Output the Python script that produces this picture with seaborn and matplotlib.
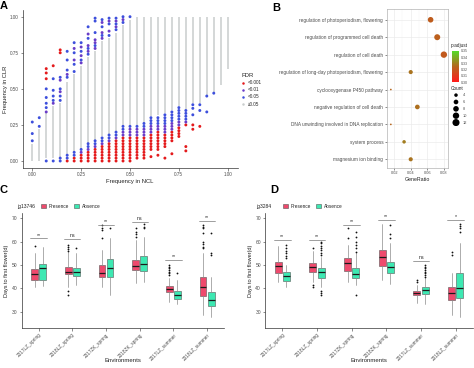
import numpy as np
import pandas as pd
import matplotlib
matplotlib.use("Agg")
import matplotlib.pyplot as plt
import seaborn as sns
from matplotlib.colors import LinearSegmentedColormap, Normalize
from matplotlib.lines import Line2D
from matplotlib.patches import Patch
from matplotlib.colorbar import ColorbarBase

# ---------------- A: frequency in NCL vs CLR ----------------
n_ncl = 28  # columns at k/28
gray_lo = [0.00, 0.00, 0.02, 0.02, 0.03, 0.05, 0.06, 0.08, 0.12, 0.14,
           0.17, 0.19, 0.20, 0.24, 0.25, 0.25, 0.26, 0.31, 0.32, 0.33,
           0.35, 0.38, 0.36, 0.40, 0.40, 0.46, 0.48, 0.53, 0.64]
gray_hi = [0.12, 0.22, 0.33, 0.38, 0.40, 0.55, 0.60, 0.66, 0.72, 0.76,
           0.83, 0.85, 0.89, 0.94, 0.98, 1.00, 1.00, 1.00, 1.00, 1.00,
           1.00, 1.00, 1.00, 1.00, 1.00, 1.00, 1.00, 1.00, 1.00]
red_pts = [[], [], [0.64, 0.61, 0.57], [0.66], [0.77, 0.75],
           [0.0], [0.0, 0.02], [0.0, 0.02, 0.04], [0.0, 0.02, 0.04, 0.06],
           [0.0, 0.02, 0.04, 0.06, 0.08],
           [0.0, 0.02, 0.04, 0.06, 0.08, 0.10],
           [0.0, 0.02, 0.04, 0.06, 0.08, 0.10, 0.12],
           [0.0, 0.02, 0.04, 0.06, 0.08, 0.10, 0.12, 0.14],
           [0.0, 0.02, 0.04, 0.06, 0.08, 0.10, 0.12, 0.14, 0.16],
           [0.0, 0.02, 0.04, 0.06, 0.08, 0.10, 0.12, 0.14, 0.16],
           [0.02, 0.04, 0.06, 0.08, 0.10, 0.12, 0.14, 0.16],
           [0.02, 0.04, 0.06, 0.08, 0.10, 0.12, 0.14, 0.16],
           [0.03, 0.08, 0.10, 0.12, 0.14, 0.16, 0.18],
           [0.04, 0.08, 0.10, 0.12, 0.14, 0.16, 0.18, 0.20],
           [0.02, 0.10, 0.12, 0.14, 0.16, 0.18],
           [0.05, 0.14, 0.16, 0.18, 0.20],
           [0.17, 0.19, 0.21, 0.23],
           [0.07, 0.10, 0.25], [0.22, 0.25], [0.24], [], [], [], []]
purple_pts = [[], [], [0.34], [0.40], [0.56, 0.48], [0.60], [0.78, 0.70],
              [0.79, 0.73, 0.68, 0.06], [0.88, 0.80, 0.76, 0.08],
              [0.84, 0.82, 0.78, 0.10], [0.96, 0.89, 0.85, 0.12],
              [0.97, 0.90, 0.14], [0.97, 0.93, 0.16], [0.98, 0.18, 0.20],
              [0.18, 0.20, 0.22], [0.18, 0.20, 0.22], [0.18, 0.20, 0.22],
              [0.20, 0.22, 0.24], [0.22, 0.24], [0.20, 0.22, 0.24],
              [0.22, 0.24, 0.26], [0.25, 0.27], [0.27], [], [], [], [], [], []]
blue_pts = [[0.27, 0.19, 0.14], [0.30, 0.24], [0.50, 0.44, 0.40, 0.37, 0.0],
            [0.57, 0.49, 0.45, 0.42, 0.0], [0.58, 0.50, 0.45, 0.42, 0.0, 0.02],
            [0.76, 0.70, 0.63, 0.58, 0.02, 0.04], [0.82, 0.75, 0.67, 0.62, 0.04, 0.06],
            [0.82, 0.76, 0.70, 0.08], [0.93, 0.85, 0.78, 0.74, 0.10, 0.12],
            [0.99, 0.97, 0.89, 0.80, 0.12, 0.14], [0.98, 0.93, 0.87, 0.14, 0.16],
            [0.99, 0.95, 0.87, 0.16, 0.18], [0.99, 0.95, 0.91, 0.18, 0.20],
            [1.0, 0.96, 0.22, 0.24], [1.0, 0.24], [0.24], [0.24, 0.26],
            [0.26, 0.28, 0.30], [0.26, 0.28, 0.30], [0.26, 0.28, 0.30, 0.32],
            [0.28, 0.30, 0.32, 0.34], [0.29, 0.31, 0.33, 0.35, 0.37],
            [0.29, 0.31, 0.33, 0.35], [0.32, 0.365, 0.39], [0.35, 0.39],
            [0.34, 0.45], [0.47], [], []]
fdr_labels = ["<0.001", "<0.01", "<0.05", "\u22650.05"]
fdr_colors = ["#e41a1c", "#6a3cc8", "#3d4fdc", "#c9cdcd"]

# ---------------- B: GO enrichment ----------------
go_terms = ["regulation of photoperiodism, flowering",
            "regulation of programmed cell death",
            "regulation of cell death",
            "regulation of long-day photoperiodism, flowering",
            "cyclooxygenase P450 pathway",
            "negative regulation of cell death",
            "DNA unwinding involved in DNA replication",
            "system process",
            "magnesium ion binding"]
gene_ratio = [0.064, 0.072, 0.080, 0.040, 0.016, 0.048, 0.016, 0.032, 0.040]
go_count = [8, 9, 10, 5, 2, 6, 2, 4, 5]
go_padj = [0.322, 0.323, 0.321, 0.328, 0.325, 0.327, 0.325, 0.330, 0.328]
padj_ticks = [0.30, 0.31, 0.32, 0.33, 0.34, 0.35]
count_legend = [4, 6, 8, 10, 12]

# ---------------- C / D: days to first flower ----------------
envs = ["2017LZ_spring", "2018LZ_spring", "2017ZK_spring",
        "2018ZK_spring", "2017LZ_summer", "2018LZ_summer"]

c_pre_med = [46.0, 47.1, 46.4, 49.7, 39.6, 40.7]
c_pre_q1 = [43.6, 46.0, 45.0, 47.9, 38.3, 36.7]
c_pre_q3 = [48.3, 49.3, 50.0, 52.1, 41.1, 45.0]
c_pre_lo = [40.7, 40.7, 40.7, 42.1, 34.0, 28.6]
c_pre_hi = [55.0, 55.5, 56.4, 60.7, 44.6, 55.0]
c_pre_out = [[58.0], [58.6, 57.7, 56.9, 56.2, 38.9, 37.1], [61.4, 65.0, 66.0, 67.1],
             [65.7, 64.3, 63.1, 62.1], [45.7, 46.4, 47.1, 47.9, 48.6, 49.3, 50.0],
             [67.1, 66.4, 65.7, 63.6, 59.7, 58.9, 57.9, 57.1]]
c_abs_med = [48.6, 46.9, 48.6, 50.6, 37.1, 35.0]
c_abs_q1 = [43.6, 45.4, 45.0, 47.4, 35.3, 32.6]
c_abs_q3 = [50.3, 48.9, 52.6, 54.0, 38.9, 38.6]
c_abs_lo = [41.0, 41.4, 37.1, 42.9, 33.1, 27.9]
c_abs_hi = [57.9, 55.0, 61.4, 62.1, 43.6, 45.0]
c_abs_out = [[], [57.4], [65.7], [67.4, 66.4, 65.7], [46.4], [63.6, 55.0, 54.3]]
c_sig = ["**", "ns", "**", "ns", "**", "**"]
c_sig_y = [61.4, 61.1, 67.1, 68.6, 52.1, 68.9]

d_pre_med = [49.6, 49.3, 50.7, 53.6, 38.1, 37.9]
d_pre_q1 = [46.4, 46.9, 47.4, 49.7, 37.1, 35.0]
d_pre_q3 = [51.4, 50.7, 53.1, 56.4, 38.9, 40.7]
d_pre_lo = [42.6, 42.6, 42.9, 43.6, 33.6, 28.6]
d_pre_hi = [58.3, 56.0, 58.6, 67.4, 41.4, 46.4]
d_pre_out = [[], [57.4, 41.4, 40.7], [61.7, 65.7], [], [43.6, 42.9], [55.7, 54.3]]
d_abs_med = [45.3, 46.9, 46.0, 49.3, 39.3, 40.3]
d_abs_q1 = [43.3, 44.6, 44.6, 46.4, 37.4, 35.7]
d_abs_q3 = [46.9, 48.6, 48.6, 51.4, 40.7, 46.4]
d_abs_lo = [40.7, 40.7, 41.4, 42.0, 33.1, 27.9]
d_abs_hi = [50.0, 53.6, 55.0, 59.3, 44.3, 59.3]
d_abs_out = [[52.9, 54.0, 55.0, 56.0, 57.1, 58.6],
             [54.3, 55.3, 56.3, 57.3, 58.3, 59.3, 60.0, 38.9, 37.9, 37.1],
             [55.7, 57.1, 58.6, 60.0, 62.1, 64.3, 37.1],
             [61.4, 63.1, 67.1],
             [45.0, 45.7, 46.4, 47.1, 47.9, 48.6, 49.3, 50.0],
             [64.3, 66.0, 66.9, 67.4]]
d_sig = ["**", "**", "**", "**", "ns", "*"]
d_sig_y = [60.7, 60.7, 67.1, 69.3, 51.7, 69.3]

pres_color = "#ee4a6d"
abs_color = "#3de8b2"

# ---------------- figure ----------------
sns.set_theme(style="white")
plt.rcParams["font.family"] = ["Liberation Sans", "DejaVu Sans"]
W, H = 474, 368
fig = plt.figure(figsize=(W / 100, H / 100), dpi=100)


def px_axes(l, t, r, b):
    return fig.add_axes([l / W, 1 - b / H, (r - l) / W, (b - t) / H])


def classic(ax):
    for s in ["top", "right"]:
        ax.spines[s].set_visible(False)
    for s in ["left", "bottom"]:
        ax.spines[s].set_color("#333333")
        ax.spines[s].set_linewidth(0.5)
    ax.tick_params(length=1.8, width=0.4, color="#333333", labelcolor="#4d4d4d",
                   labelsize=3.3, pad=1, bottom=True, left=True)


# ---- A ----
axA = px_axes(22.5, 9.5, 237.5, 168.2)
cols = [k / n_ncl for k in range(n_ncl + 1)]
axA.vlines(cols, gray_lo, gray_hi, color=fdr_colors[3], lw=1.1, zorder=1)
rows = []
for lab, pts in zip(fdr_labels[:3], [red_pts, purple_pts, blue_pts]):
    for k, ys in enumerate(pts):
        for y in ys:
            rows.append((k / n_ncl, y, lab))
dfA = pd.DataFrame(rows, columns=["NCL", "CLR", "FDR"])
sns.scatterplot(data=dfA, x="NCL", y="CLR", hue="FDR",
                palette=dict(zip(fdr_labels, fdr_colors)), s=4.5, linewidth=0,
                legend=False, ax=axA, zorder=3)
axA.set_xlim(-0.05, 1.05)
axA.set_ylim(-0.05, 1.05)
axA.set_xticks([0, 0.25, 0.5, 0.75, 1.0])
axA.set_yticks([0, 0.25, 0.5, 0.75, 1.0])
axA.set_xticklabels(["0.00", "0.25", "0.50", "0.75", "1.00"])
axA.set_yticklabels(["0.00", "0.25", "0.50", "0.75", "1.00"])
classic(axA)
axA.set_xlabel("Frequency in NCL", fontsize=4.2, color="#222222", labelpad=1.5)
axA.set_ylabel("Frequency in CLR", fontsize=4.2, color="#222222", labelpad=1.5)
handles = [Line2D([], [], marker="o", ls="", color=c, markersize=1.8,
                  markeredgewidth=0) for c in fdr_colors]
legA = fig.legend(handles, fdr_labels, title="FDR", loc="upper left",
                  bbox_to_anchor=(239 / W, 1 - 71 / H), frameon=False,
                  fontsize=3.3, title_fontsize=4.3, handlelength=0.8,
                  handletextpad=0.6, labelspacing=0.45, borderpad=0)
legA._legend_box.align = "left"

# ---- B ----
padj_cmap = LinearSegmentedColormap.from_list(
    "padj", ["#ff1a1a", "#b5651d", "#55dc2a"])
padj_norm = Normalize(0.30, 0.35)
axB = px_axes(386.7, 9.3, 448, 168)
dfB = pd.DataFrame({"GeneRatio": gene_ratio, "pos": range(len(go_terms)),
                    "Count": go_count, "p.adjust": go_padj})
sns.scatterplot(data=dfB, x="GeneRatio", y="pos", hue="p.adjust", size="Count",
                palette=padj_cmap, hue_norm=padj_norm, sizes=(1.5, 26),
                size_norm=(2, 12), linewidth=0, legend=False, ax=axB, zorder=3)
axB.set_xlim(0.011, 0.085)
axB.set_ylim(8.5, -0.6)
axB.set_yticks(range(len(go_terms)))
axB.set_yticklabels(go_terms)
axB.set_xticks([0.02, 0.04, 0.06, 0.08])
axB.set_xticks([0.03, 0.05, 0.07], minor=True)
axB.set_xticklabels(["0.02", "0.04", "0.06", "0.08"])
axB.grid(True, which="major", color="#ebebeb", lw=0.5)
axB.grid(True, which="minor", axis="x", color="#f3f3f3", lw=0.3)
for s in axB.spines.values():
    s.set_color("#b3b3b3")
    s.set_linewidth(0.5)
axB.tick_params(axis="y", length=1.5, width=0.4, color="#333333",
                labelsize=3.4, labelcolor="#4d4d4d", pad=1, left=True)
axB.tick_params(axis="x", which="major", length=1.5, width=0.4, color="#333333",
                labelsize=2.8, labelcolor="#4d4d4d", pad=1, bottom=True)
axB.tick_params(axis="x", which="minor", length=0)
axB.set_xlabel("GeneRatio", fontsize=3.8, color="#222222", labelpad=1)
axB.set_ylabel("")

cax = px_axes(452, 51, 459, 82)
cb = ColorbarBase(cax, cmap=padj_cmap, norm=padj_norm, ticks=padj_ticks)
cb.outline.set_visible(False)
cb.ax.tick_params(labelsize=2.6, length=0, pad=1, labelcolor="#4d4d4d")
cb.ax.set_yticklabels(["%.2f" % t for t in padj_ticks])
fig.text(451 / W, 1 - 46 / H, "p.adjust", fontsize=3.4, va="center",
         color="#222222")
fig.text(451 / W, 1 - 88 / H, "Count", fontsize=3.4, va="center",
         color="#222222")
axL = px_axes(449, 91, 474, 126)
axL.set_xlim(0, 1)
axL.set_ylim(len(count_legend) - 0.5, -0.6)
axL.axis("off")
leg_sizes = [1.5 + (c - 2) / 10 * 24.5 for c in count_legend]
axL.scatter([0.28] * len(count_legend), range(len(count_legend)), s=leg_sizes,
            color="black", linewidth=0)
for i, c in enumerate(count_legend):
    axL.text(0.55, i, str(c), fontsize=2.8, va="center", color="#4d4d4d")


# ---- C / D ----
def box_panel(ax, pre, ab, sig, sig_y, gene, title_x, leg_x, xlim):
    pos = np.arange(len(envs))
    for arr, off, col in [(pre, -0.12, pres_color), (ab, 0.12, abs_color)]:
        med, q1, q3, lo, hi, out = arr
        stats = [dict(med=med[i], q1=q1[i], q3=q3[i], whislo=lo[i],
                      whishi=hi[i], fliers=out[i]) for i in range(len(envs))]
        ax.bxp(stats, positions=pos + off, widths=0.2, patch_artist=True,
               showcaps=False,
               boxprops=dict(facecolor=col, edgecolor="#555555", lw=0.4),
               medianprops=dict(color="#1a1a1a", lw=0.9),
               whiskerprops=dict(color="#8c8c8c", lw=0.5),
               flierprops=dict(marker="o", markersize=1.3,
                               markerfacecolor="#111111",
                               markeredgewidth=0))
    for i in range(len(envs)):
        ax.plot([i - 0.24, i + 0.24], [sig_y[i], sig_y[i]], color="#777777",
                lw=0.5)
        ax.text(i, sig_y[i] + 0.3, sig[i], ha="center", va="bottom",
                fontsize=3.8, color="#222222")
    ax.set_xlim(*xlim)
    ax.set_ylim(22.9, 72.3)
    ax.set_xticks(pos)
    ax.set_xticklabels(envs, rotation=45, ha="right", rotation_mode="anchor")
    ax.set_yticks([30, 40, 50, 60, 70])
    classic(ax)
    ax.tick_params(axis="x", labelsize=3.4)
    ax.tick_params(axis="y", labelsize=3.6)
    ax.set_xlabel("Environments", fontsize=4.3, color="#222222")
    ax.xaxis.set_label_coords(0.5, -0.255)
    ax.set_ylabel("Days to first flower(d)", fontsize=4.0, color="#222222",
                  labelpad=2)
    fig.text(title_x / W, 1 - 206 / H, gene, fontsize=3.6, va="center",
             color="#222222")
    hs = [Patch(facecolor=pres_color, edgecolor="#555555", lw=0.4),
          Patch(facecolor=abs_color, edgecolor="#555555", lw=0.4)]
    fig.legend(hs, ["Presence", "Absence"], ncol=2, loc="center left",
               bbox_to_anchor=(leg_x / W, 1 - 206 / H), frameon=False,
               fontsize=3.4, handlelength=1.0, handleheight=1.0,
               handletextpad=0.5, columnspacing=1.2, borderpad=0)


axC = px_axes(21.7, 213, 224, 328.3)
box_panel(axC, (c_pre_med, c_pre_q1, c_pre_q3, c_pre_lo, c_pre_hi, c_pre_out),
          (c_abs_med, c_abs_q1, c_abs_q3, c_abs_lo, c_abs_hi, c_abs_out),
          c_sig, c_sig_y, "jg13746", 17, 39, (-0.5, 5.5))
axD = px_axes(265, 213, 473, 328.3)
box_panel(axD, (d_pre_med, d_pre_q1, d_pre_q3, d_pre_lo, d_pre_hi, d_pre_out),
          (d_abs_med, d_abs_q1, d_abs_q3, d_abs_lo, d_abs_hi, d_abs_out),
          d_sig, d_sig_y, "jg3284", 256, 281, (-0.5, 5.5))

# panel letters
for lab, x, y in [("A", 0, 6), ("B", 272, 8), ("C", -1, 190), ("D", 270, 190)]:
    fig.text(x / W, 1 - y / H, lab, fontsize=8, fontweight="bold",
             va="center", ha="left", color="black")

fig.savefig("out.png", dpi=100)
